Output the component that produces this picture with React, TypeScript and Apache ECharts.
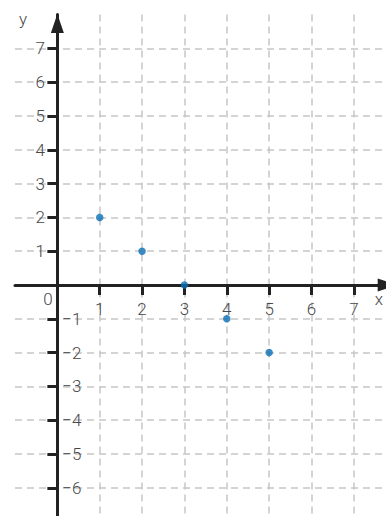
import React, { useEffect, useRef } from "react";
import * as echarts from "echarts";

// Plotted points
const xValues = [1, 2, 3, 4, 5];
const yValues = [2, 1, 0, -1, -2];

// Axis ticks / labels
const xTickValues = [1, 2, 3, 4, 5, 6, 7];
const yTickPositive = [1, 2, 3, 4, 5, 6, 7];
const yTickNegative = [-1, -2, -3, -4, -5, -6];

const AXIS_COLOR = "#222222";
const GRID_COLOR = "#c6c6c6";
const TEXT_COLOR = "#474747";
const POINT_COLOR = "#0b6fb5";
const FONT = "Roboto";

// Grid box (pixels) and axis ranges
const GRID_LEFT = 15;
const GRID_TOP = 14.6;
const GRID_RIGHT = -10.2;
const GRID_BOTTOM = -5.6;
const WIDTH = 386;
const HEIGHT = 516;
const X_MIN = -1;
const X_MAX = 8;
const Y_MIN = -7;
const Y_MAX = 8;

const minus = (v: number) => (v < 0 ? "\u2212" + Math.abs(v) : String(v));

export default function App() {
  const ref = useRef<HTMLDivElement>(null);

  useEffect(() => {
    if (!ref.current) return;
    const chart = echarts.init(ref.current, undefined, { renderer: "svg" });

    const gridW = WIDTH - GRID_LEFT - GRID_RIGHT;
    const gridH = HEIGHT - GRID_TOP - GRID_BOTTOM;
    const originX = GRID_LEFT + ((0 - X_MIN) / (X_MAX - X_MIN)) * gridW;
    const originY = GRID_TOP + ((Y_MAX - 0) / (Y_MAX - Y_MIN)) * gridH;
    const gridRightX = GRID_LEFT + gridW;
    const gridBottomY = GRID_TOP + gridH;

    const splitLine = {
      show: true,
      lineStyle: { color: GRID_COLOR, width: 1.5, type: [7, 5] as number[] },
    };
    const labelStyle = {
      color: TEXT_COLOR,
      fontFamily: FONT,
      fontWeight: 300 as any,
      fontSize: 17,
    };
    const textStyle = {
      fill: TEXT_COLOR,
      fontFamily: FONT,
      fontWeight: 300 as any,
      fontSize: 17,
      align: "center",
      verticalAlign: "middle",
    };

    chart.setOption({
      animation: false,
      grid: {
        left: GRID_LEFT,
        right: GRID_RIGHT,
        top: GRID_TOP,
        bottom: GRID_BOTTOM,
        containLabel: false,
        outerBoundsMode: "none",
      },
      xAxis: {
        type: "value",
        position: "bottom",
        offset: -(gridBottomY - originY),
        min: X_MIN,
        max: X_MAX,
        interval: 1,
        axisLine: {
          show: true,
          onZero: false,
          symbol: ["none", "triangle"],
          symbolSize: [13, 19],
          symbolOffset: [0, -9],
          lineStyle: { color: AXIS_COLOR, width: 3 },
        },
        axisTick: {
          show: true,
          length: 10,
          customValues: xTickValues,
          lineStyle: { color: AXIS_COLOR, width: 3 },
        },
        axisLabel: {
          ...labelStyle,
          margin: 15,
          customValues: xTickValues,
        },
        splitLine,
      },
      yAxis: [
        {
          type: "value",
          position: "left",
          offset: -(originX - GRID_LEFT),
          min: Y_MIN,
          max: Y_MAX,
          interval: 1,
          axisLine: {
            show: true,
            onZero: false,
            symbol: ["none", "triangle"],
            symbolSize: [13, 19],
            symbolOffset: [0, -9],
            lineStyle: { color: AXIS_COLOR, width: 3 },
          },
          axisTick: {
            show: true,
            length: 10,
            customValues: [...yTickPositive, ...yTickNegative],
            lineStyle: { color: AXIS_COLOR, width: 3 },
          },
          axisLabel: {
            ...labelStyle,
            margin: 12.5,
            padding: [4, 0, 0, 0],
            customValues: yTickPositive,
          },
          splitLine,
        },
        {
          type: "value",
          position: "right",
          offset: -(gridRightX - originX),
          min: Y_MIN,
          max: Y_MAX,
          interval: 1,
          axisLine: { show: false, onZero: false },
          axisTick: { show: false },
          splitLine: { show: false },
          axisLabel: {
            ...labelStyle,
            margin: 5,
            padding: [9, 0, 0, 0],
            customValues: yTickNegative,
            formatter: (v: number) => minus(v),
          },
        },
      ],
      graphic: [
        { type: "text", x: 48, y: 299, style: { text: "0", ...textStyle } },
        { type: "text", x: 379, y: 299, style: { text: "x", ...textStyle } },
        { type: "text", x: 23, y: 19, style: { text: "y", ...textStyle } },
      ],
      series: [
        {
          type: "scatter",
          xAxisIndex: 0,
          yAxisIndex: 0,
          symbol: "circle",
          symbolSize: 7.5,
          itemStyle: { color: POINT_COLOR },
          data: xValues.map((x, i) => [x, yValues[i]]),
          z: 5,
        },
      ],
    });

    return () => chart.dispose();
  }, []);

  return (
    <div
      ref={ref}
      style={{ position: "absolute", left: 0, top: 0, width: WIDTH, height: HEIGHT, background: "#ffffff" }}
    />
  );
}
